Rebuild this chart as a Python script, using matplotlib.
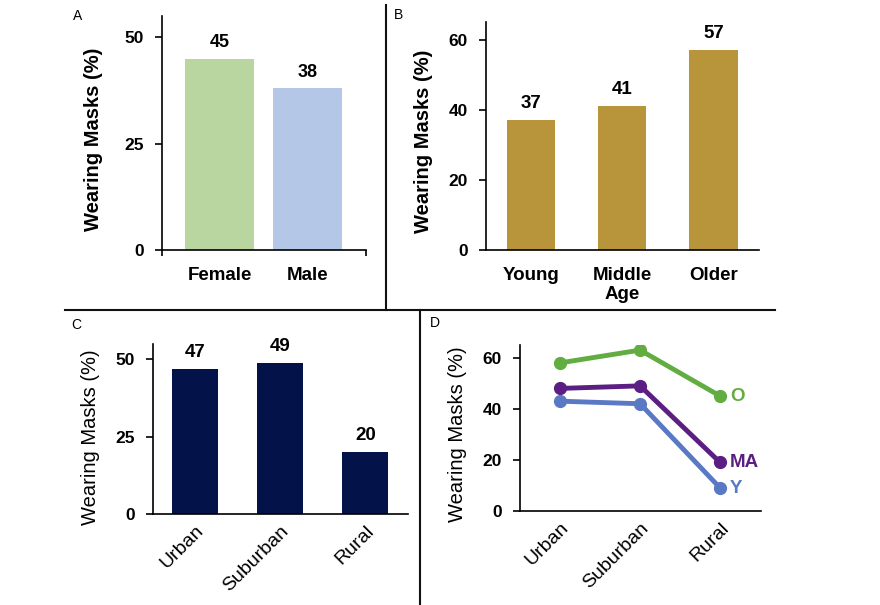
import matplotlib
matplotlib.use("Agg")
import matplotlib.pyplot as plt
from matplotlib.lines import Line2D

plt.rcParams['font.family'] = ['Liberation Sans', 'DejaVu Sans']

# Panel A - gender
genders = ['Female', 'Male']
gender_vals = [45, 38]
gender_colors = ['#b9d5a0', '#b4c7e7']

# Panel B - age
ages = ['Young', 'Middle\nAge', 'Older']
age_vals = [37, 41, 57]

# Panel C - locale
locales = ['Urban', 'Suburban', 'Rural']
locale_vals = [47, 49, 20]

# Panel D - locale by age group
older = [58, 63, 45]
middle_age = [48, 49, 19]
young = [43, 42, 9]
series_names = ['O', 'MA', 'Y']
series_colors = ['#62ad42', '#5b1e82', '#5a79c4']

W, H = 880, 605


def box(l, r, t, b):
    return [l / W, 1 - b / H, (r - l) / W, (b - t) / H]


def style(ax, lw=1.2):
    for s in ['top', 'right']:
        ax.spines[s].set_visible(False)
    for s in ['left', 'bottom']:
        ax.spines[s].set_linewidth(lw)
    ax.tick_params(axis='y', direction='out', length=5, width=1.2, pad=8,
                   labelsize=12.5)
    ax.tick_params(axis='x', length=0, pad=12)
    for t in ax.get_yticklabels():
        t.set_fontweight('bold')


def bar_labels(ax, xs, vals, size=13, weight='bold'):
    for x, v in zip(xs, vals):
        ax.annotate(str(v), (x, v), xytext=(0, 8.5), textcoords='offset points',
                    ha='center', va='baseline', fontsize=size, fontweight=weight)


fig = plt.figure(figsize=(8.8, 6.05), dpi=100)

# A
axA = fig.add_axes(box(162, 366, 16, 250))
xa = range(len(genders))
axA.bar(xa, gender_vals, width=0.78, color=gender_colors)
axA.set_xlim(-0.653, 1.665)
axA.set_ylim(0, 55)
axA.set_yticks([0, 25, 50])
axA.set_xticks(list(xa))
axA.set_xticklabels(genders, fontsize=13.5, fontweight='bold')
style(axA)
axA.set_xticks([-0.653, 1.665], minor=True)
axA.tick_params(axis='x', which='minor', direction='out', length=4, width=1.2)
bar_labels(axA, xa, gender_vals)
axA.set_ylabel('Wearing Masks (%)', fontsize=14.5, fontweight='bold')
axA.yaxis.set_label_coords(-0.29, 0.474)

# B
axB = fig.add_axes(box(486, 759, 22, 250))
xb = range(len(ages))
axB.bar(xb, age_vals, width=0.53, color='#b8943a')
axB.set_xlim(-0.495, 2.5)
axB.set_ylim(0, 65)
axB.set_yticks([0, 20, 40, 60])
axB.set_xticks(list(xb))
axB.set_xticklabels(ages, fontsize=13.5, fontweight='bold')
style(axB)
bar_labels(axB, xb, age_vals, size=13.5)
axB.set_ylabel('Wearing Masks (%)', fontsize=14.5, fontweight='bold')
axB.yaxis.set_label_coords(-0.194, 0.478)

# C
axC = fig.add_axes(box(153, 408, 344, 514))
xc = range(len(locales))
axC.bar(xc, locale_vals, width=0.54, color='#03134a')
axC.set_xlim(-0.49, 2.5)
axC.set_ylim(0, 55)
axC.set_yticks([0, 25, 50])
axC.set_xticks(list(xc))
axC.set_xticklabels(locales, fontsize=14, rotation=45, ha='right',
                    rotation_mode='anchor')
style(axC)
axC.tick_params(axis='x', pad=6)
bar_labels(axC, xc, locale_vals, size=13.5)
axC.set_ylabel('Wearing Masks (%)', fontsize=14.5)
axC.yaxis.set_label_coords(-0.208, 0.45)

# D
axD = fig.add_axes(box(520, 761, 345, 511))
xd = range(len(locales))
for vals, name, col in zip([older, middle_age, young], series_names, series_colors):
    axD.plot(xd, vals, color=col, lw=3.5, marker='o', ms=8.5)
    axD.annotate(name, (xd[-1], vals[-1]), xytext=(7, 0), textcoords='offset points',
                 ha='left', va='center', color=col, fontsize=13.5, fontweight='bold')
axD.set_xlim(-0.5, 2.51)
axD.set_ylim(0, 65)
axD.set_yticks([0, 20, 40, 60])
axD.set_xticks(list(xd))
axD.set_xticklabels(locales, fontsize=14, rotation=45, ha='right',
                    rotation_mode='anchor')
style(axD)
axD.tick_params(axis='x', pad=6)
axD.set_ylabel('Wearing Masks (%)', fontsize=14.5)
axD.yaxis.set_label_coords(-0.22, 0.46)

# panel letters
for lbl, (px, py) in zip('ABCD', [(78, 16), (398, 15), (76, 325), (435, 323)]):
    fig.text(px / W, 1 - py / H, lbl, fontsize=10, ha='center', va='center')

# dividing lines
lk = dict(color='#111111', lw=1.5, transform=fig.transFigure)
hy = 1 - 309.5 / H
fig.add_artist(Line2D([65 / W, 775 / W], [hy, hy], **lk))
fig.add_artist(Line2D([386 / W, 386 / W], [1 - 5 / H, hy], **lk))
fig.add_artist(Line2D([420 / W, 420 / W], [hy, 0], **lk))

fig.savefig('out.png', dpi=100)
